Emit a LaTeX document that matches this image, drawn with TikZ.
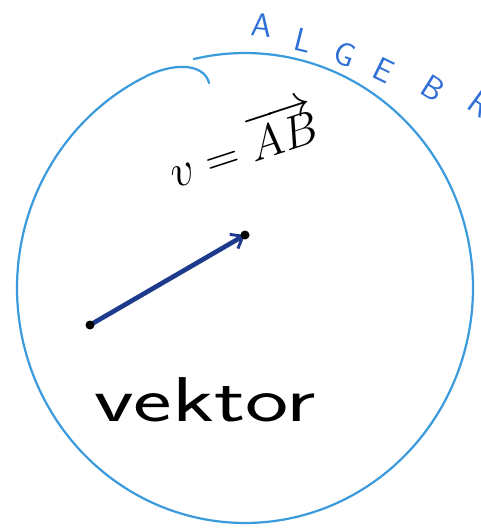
\documentclass[tikz,border=0pt]{standalone}
\usepackage[dvipsnames]{xcolor}
\definecolor{penblue}{HTML}{3C9BDC}
\definecolor{inkblue}{HTML}{2F6FD6}
\definecolor{arrowblue}{HTML}{1E3A8C}
\usetikzlibrary{arrows.meta}

\begin{document}
\begin{tikzpicture}[x=0.03cm,y=-0.03cm]
        \useasboundingbox (0,0) rectangle (481,532);
        \clip (0,0) rectangle (481,532);
        % the hand drawn ring
        \draw[penblue,line width=1.9pt,line cap=round] (209,83) .. controls (205,66) and (180,61) .. (148.6,75.0)
          -- plot[domain=245:-103,samples=90,smooth] ({245+228*cos(\x)},{288+235*sin(\x)});
        % word along the ring
        \foreach \l/\x/\y/\r in {A/262/25/-6,L/303/40/-14,G/345/54/-20,E/384/70/-26,B/433/88/-32,R/480/104/-36}
          \node[inkblue,rotate=\r,font=\fontsize{28}{28}\sffamily\selectfont] at (\x,\y) {\l};
        \node[rotate=18,scale=1.6,font=\Huge] (vdef) at (242,142) {\(v = \overrightarrow{AB}\)};
        \coordinate (A) at (90,325);
        \coordinate (B) at (245,235);
        \draw[arrowblue,line width=4pt,-{Straight Barb[length=9pt,width=14pt,line width=2.5pt]}] (A) -- (B);
        \fill foreach \p in {A,B}{(\p) circle [radius=4.5]};
        \node[xscale=1.45,font=\fontsize{54}{54}\sffamily\selectfont] (word) at (205,400) {vektor};
      \end{tikzpicture}
\end{document}
